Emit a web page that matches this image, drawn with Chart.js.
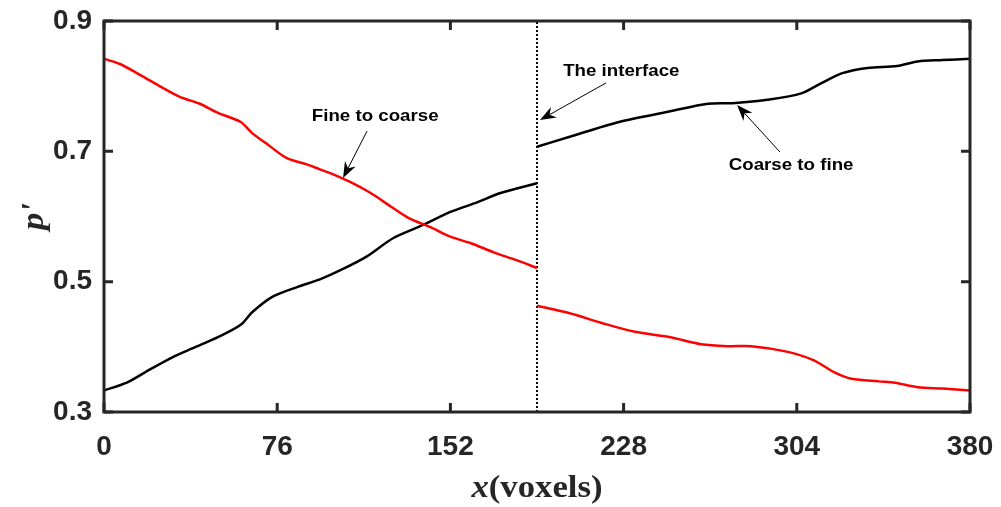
<!DOCTYPE html>
<html>
<head>
<meta charset="utf-8">
<script src="https://cdn.jsdelivr.net/npm/chart.js@4.4.1/dist/chart.umd.min.js"></script>
<style>
  html, body { margin: 0; padding: 0; background: #fff; }
  canvas { display: block; }
</style>
</head>
<body>
<canvas id="c" width="1001" height="507"></canvas>
<script>
// fine to coarse (red) - gap at the interface
const xFine = [0, 7, 16, 25, 33, 42, 50, 60, 65, 72, 80, 89, 95, 99, 108, 117, 126, 134, 143, 152, 161, 171, 181, 190,
  190, 190, 204, 218, 233, 248, 262, 274, 284, 299, 311, 321, 328, 340, 347, 357, 368, 380];
const pFine = [0.842, 0.834, 0.817, 0.799, 0.784, 0.773, 0.759, 0.745, 0.728, 0.710, 0.690, 0.680, 0.672, 0.667, 0.653, 0.636, 0.615, 0.597, 0.584, 0.569, 0.559, 0.545, 0.533, 0.521,
  null, 0.463, 0.452, 0.437, 0.423, 0.415, 0.404, 0.401, 0.401, 0.393, 0.380, 0.360, 0.351, 0.347, 0.345, 0.338, 0.336, 0.333];

// coarse to fine (black)
const xCoarse = [0, 10, 20, 30, 39, 50, 60, 65, 74, 85, 95, 104, 115, 127, 140, 152, 164, 174, 190,
  190, 190, 204, 226, 248, 265, 277, 291, 306, 315, 324, 335, 348, 357, 368, 380];
const pCoarse = [0.333, 0.345, 0.365, 0.384, 0.398, 0.415, 0.434, 0.453, 0.477, 0.492, 0.504, 0.518, 0.538, 0.567, 0.587, 0.607, 0.622, 0.636, 0.651,
  null, 0.707, 0.722, 0.745, 0.761, 0.773, 0.774, 0.779, 0.789, 0.805, 0.820, 0.828, 0.831, 0.838, 0.840, 0.842];

const interfaceX = 190;
const xTicks = [0, 76, 152, 228, 304, 380];
const yTicks = [0.3, 0.5, 0.7, 0.9];

// annotation text, arrow tail, arrow tip (data coords)
const notes = [
  { text: 'Fine to coarse', at: [119, 0.754], from: [115.4, 0.731], to: [104.9, 0.659] },
  { text: 'The interface', at: [227, 0.823], from: [220.3, 0.805], to: [191.3, 0.748] },
  { text: 'Coarse to fine', at: [301.5, 0.679], from: [296.6, 0.699], to: [277.8, 0.771] }
];

const toPts = (xs, ys) => xs.map((x, i) => ({ x: x, y: ys[i] }));
const axisColor = '#262626';

const drawArrow = (ctx, x0, y0, x1, y1) => {
  const ang = Math.atan2(y1 - y0, x1 - x0);
  const len = 16, half = 6, notch = 11;
  ctx.save();
  ctx.strokeStyle = '#000';
  ctx.lineWidth = 1;
  ctx.beginPath();
  ctx.moveTo(x0, y0);
  ctx.lineTo(x1 - Math.cos(ang) * notch, y1 - Math.sin(ang) * notch);
  ctx.stroke();
  ctx.translate(x1, y1);
  ctx.rotate(ang);
  ctx.fillStyle = '#000';
  ctx.beginPath();
  ctx.moveTo(0, 0);
  ctx.lineTo(-len, -half);
  ctx.lineTo(-notch, 0);
  ctx.lineTo(-len, half);
  ctx.closePath();
  ctx.fill();
  ctx.restore();
};

const frame = {
  id: 'frame',
  afterDraw(chart) {
    const { ctx, chartArea: a, scales } = chart;
    const sx = scales.x, sy = scales.y;
    ctx.save();
    ctx.strokeStyle = axisColor;
    ctx.lineWidth = 3;
    ctx.lineCap = 'butt';
    ctx.strokeRect(a.left, a.top, a.right - a.left, a.bottom - a.top);
    const tl = 9;
    ctx.beginPath();
    xTicks.forEach(v => {
      const px = sx.getPixelForValue(v);
      ctx.moveTo(px, a.bottom); ctx.lineTo(px, a.bottom - tl);
      ctx.moveTo(px, a.top); ctx.lineTo(px, a.top + tl);
    });
    yTicks.forEach(v => {
      const py = sy.getPixelForValue(v);
      ctx.moveTo(a.left, py); ctx.lineTo(a.left + tl, py);
      ctx.moveTo(a.right, py); ctx.lineTo(a.right - tl, py);
    });
    ctx.stroke();

    // annotations
    ctx.fillStyle = '#000';
    ctx.font = 'bold 17px "Liberation Sans", Arial, sans-serif';
    ctx.textAlign = 'center';
    ctx.textBaseline = 'middle';
    notes.forEach(n => {
      const tx = sx.getPixelForValue(n.at[0]), ty = sy.getPixelForValue(n.at[1]);
      ctx.save();
      ctx.translate(tx, ty);
      ctx.scale(1.1, 1);
      ctx.fillText(n.text, 0, 0);
      ctx.restore();
      drawArrow(ctx,
        sx.getPixelForValue(n.from[0]), sy.getPixelForValue(n.from[1]),
        sx.getPixelForValue(n.to[0]), sy.getPixelForValue(n.to[1]));
    });

    // axis titles (mixed italic / upright)
    ctx.fillStyle = axisColor;
    ctx.textAlign = 'left';
    ctx.textBaseline = 'alphabetic';
    const fi = 'italic bold 31px "Liberation Serif", "Times New Roman", serif';
    const fb = 'bold 31px "Liberation Serif", "Times New Roman", serif';
    ctx.font = fi; const w1 = ctx.measureText('x').width;
    ctx.font = fb; const w2 = ctx.measureText('(voxels)').width;
    const k = 1.12;
    const cx = (a.left + a.right) / 2;
    ctx.save();
    ctx.translate(cx - (w1 + w2) * k / 2, 497);
    ctx.scale(k, 1);
    ctx.font = fi; ctx.fillText('x', 0, 0);
    ctx.font = fb; ctx.fillText('(voxels)', w1, 0);
    ctx.restore();

    ctx.save();
    ctx.font = fi;
    const wp = ctx.measureText("p'").width;
    ctx.translate(43, (a.top + a.bottom) / 2 + wp * k / 2);
    ctx.rotate(-Math.PI / 2);
    ctx.scale(k, 1);
    ctx.fillText("p'", 0, 0);
    ctx.restore();
    ctx.restore();
  }
};

const tickFont = { family: '"Liberation Sans", Arial, sans-serif', size: 28, weight: 'bold' };

new Chart(document.getElementById('c'), {
  type: 'scatter',
  data: {
    datasets: [
      {
        label: 'Fine to coarse',
        data: toPts(xFine, pFine),
        showLine: true,
        spanGaps: false,
        borderColor: '#ff0000',
        borderWidth: 2.5,
        pointRadius: 0,
        tension: 0.3
      },
      {
        label: 'Coarse to fine',
        data: toPts(xCoarse, pCoarse),
        showLine: true,
        spanGaps: false,
        borderColor: '#000000',
        borderWidth: 2.5,
        pointRadius: 0,
        tension: 0.3
      },
      {
        label: 'The interface',
        data: toPts([interfaceX, interfaceX], [yTicks[0], yTicks[yTicks.length - 1]]),
        showLine: true,
        borderColor: '#000000',
        borderWidth: 2,
        borderDash: [2, 2],
        pointRadius: 0
      }
    ]
  },
  options: {
    responsive: false,
    animation: false,
    devicePixelRatio: 1,
    layout: { padding: { top: 21, right: 31, left: 0, bottom: 0 } },
    plugins: {
      legend: { display: false },
      tooltip: { enabled: false }
    },
    scales: {
      x: {
        type: 'linear',
        min: 0,
        max: 380,
        afterBuildTicks: s => { s.ticks = xTicks.map(v => ({ value: v })); },
        afterFit: s => { s.height = 95; s.paddingLeft = 0; s.paddingRight = 0; },
        grid: { display: false, drawTicks: false },
        border: { display: false },
        ticks: { color: axisColor, padding: 18, maxRotation: 0, font: tickFont }
      },
      y: {
        min: 0.3,
        max: 0.9,
        afterBuildTicks: s => { s.ticks = yTicks.map(v => ({ value: v })); },
        afterFit: s => { s.width = 104; s.paddingTop = 0; s.paddingBottom = 0; },
        grid: { display: false, drawTicks: false },
        border: { display: false },
        ticks: { color: axisColor, padding: 12, callback: v => v.toFixed(1), font: tickFont }
      }
    }
  },
  plugins: [frame]
});
</script>
</body>
</html>
